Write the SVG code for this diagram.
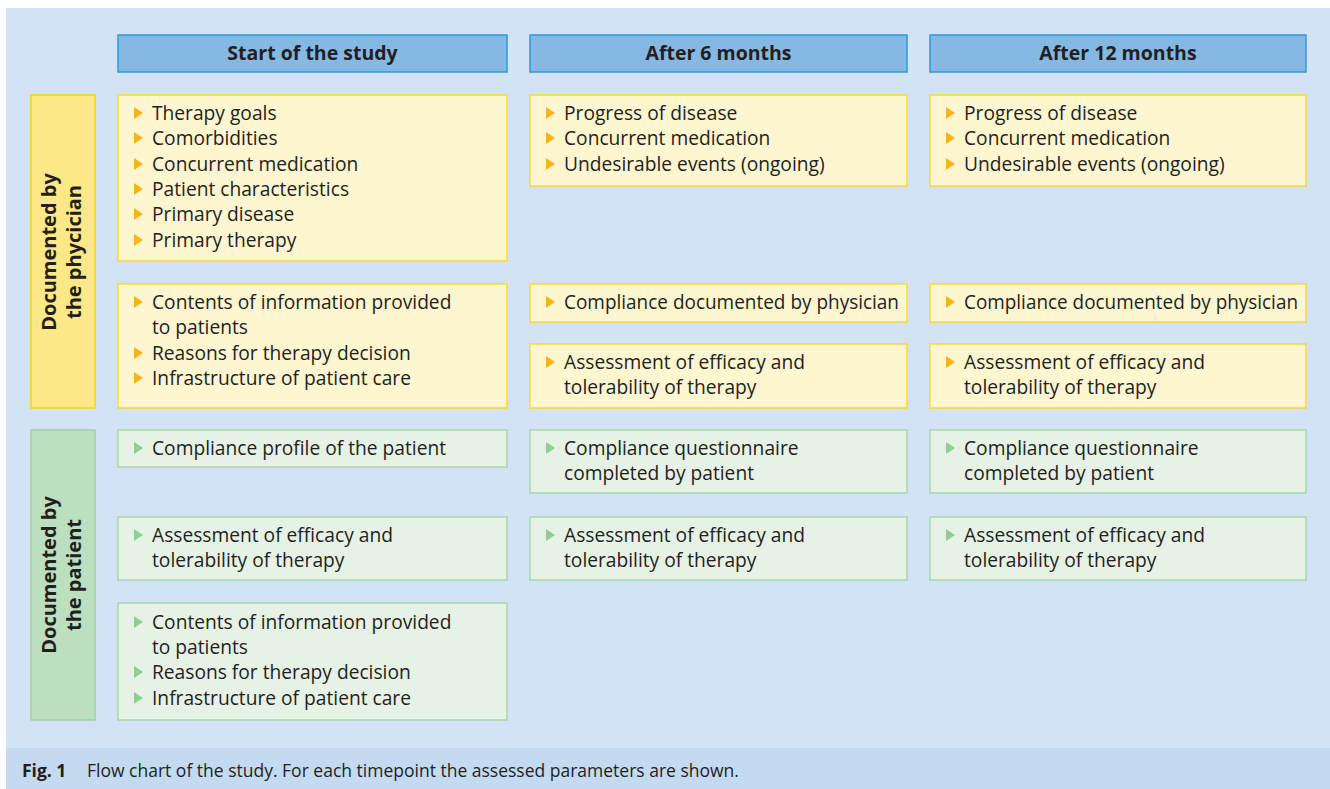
<svg xmlns="http://www.w3.org/2000/svg" width="1330" height="789" viewBox="0 0 1330 789">
<style>
.t{font-family:"Open Sans","DejaVu Sans",sans-serif;font-size:19.2px;fill:#231f20}
.h{font-family:"Open Sans","DejaVu Sans",sans-serif;font-size:19.5px;font-weight:bold;fill:#231f20;text-anchor:middle}
.hd{fill:#85b8e3;stroke:#2e9ad8;stroke-width:1.5}
.y{fill:#fef6d0;stroke:#f8da36;stroke-width:1.5}
.g{fill:#e6f2e5;stroke:#a6d8a9;stroke-width:1.5}
.ys{fill:#fde887;stroke:#f6d11f;stroke-width:1.5}
.gs{fill:#bbdfbf;stroke:#9ed3a3;stroke-width:1.5}
.ot{fill:#f9b21b}
.gt{fill:#8ecf93}
.c{font-family:"Open Sans","DejaVu Sans",sans-serif;font-size:17.5px;fill:#231f20}
</style>
<defs>
<path id="oy" d="M0,-6 L9,0 L0,6 Z" class="ot"/>
<path id="og" d="M0,-6 L9,0 L0,6 Z" class="gt"/>
</defs>
<rect x="0" y="0" width="1330" height="789" fill="#ffffff"/>
<rect x="6" y="8" width="1324" height="740" fill="#d3e3f5"/>
<rect x="6" y="748" width="1324" height="41" fill="#c4daf1"/>
<text class="c" x="22" y="777"><tspan font-weight="bold">Fig. 1</tspan><tspan x="87">Flow chart of the study. For each timepoint the assessed parameters are shown.</tspan></text>

<g id="hdr1"><rect class="hd" x="118" y="35" width="389" height="37"/><text class="h" x="312.5" y="60">Start of the study</text></g>
<g id="hdr2"><rect class="hd" x="530" y="35" width="377" height="37"/><text class="h" x="718.5" y="60">After 6 months</text></g>
<g id="hdr3"><rect class="hd" x="930" y="35" width="376" height="37"/><text class="h" x="1118" y="60">After 12 months</text></g>

<g id="side-physician"><rect class="ys" x="31" y="95" width="64" height="313"/>
<text class="h" style="font-size:20px" transform="translate(56,252) rotate(-90)">Documented by</text>
<text class="h" style="font-size:20px" transform="translate(81,252) rotate(-90)">the phycician</text></g>
<g id="side-patient"><rect class="gs" x="31" y="430" width="64" height="290"/>
<text class="h" style="font-size:20px" transform="translate(56,575) rotate(-90)">Documented by</text>
<text class="h" style="font-size:20px" transform="translate(81,575) rotate(-90)">the patient</text></g>

<g id="p1a"><rect class="y" x="118" y="95" width="389" height="166"/>
<use href="#oy" x="134" y="113"/><use href="#oy" x="134" y="138"/><use href="#oy" x="134" y="164"/><use href="#oy" x="134" y="189"/><use href="#oy" x="134" y="214"/><use href="#oy" x="134" y="240"/>
<text class="t" x="152" y="120">Therapy goals</text>
<text class="t" x="152" y="145">Comorbidities</text>
<text class="t" x="152" y="171">Concurrent medication</text>
<text class="t" x="152" y="196">Patient characteristics</text>
<text class="t" x="152" y="221">Primary disease</text>
<text class="t" x="152" y="247">Primary therapy</text></g>

<g id="p1b"><rect class="y" x="118" y="284" width="389" height="124"/>
<use href="#oy" x="134" y="302"/><use href="#oy" x="134" y="353"/><use href="#oy" x="134" y="378"/>
<text class="t" x="152" y="309">Contents of information provided</text>
<text class="t" x="152" y="334">to patients</text>
<text class="t" x="152" y="360">Reasons for therapy decision</text>
<text class="t" x="152" y="385">Infrastructure of patient care</text></g>

<g id="p2a"><rect class="y" x="530" y="95" width="377" height="91"/>
<use href="#oy" x="546" y="113"/><use href="#oy" x="546" y="138"/><use href="#oy" x="546" y="164"/>
<text class="t" x="564" y="120">Progress of disease</text>
<text class="t" x="564" y="145">Concurrent medication</text>
<text class="t" x="564" y="171">Undesirable events (ongoing)</text></g>
<g id="p2b"><rect class="y" x="530" y="284" width="377" height="38"/>
<use href="#oy" x="546" y="302"/>
<text class="t" x="564" y="309" textLength="335" lengthAdjust="spacingAndGlyphs">Compliance documented by physician</text></g>
<g id="p2c"><rect class="y" x="530" y="344" width="377" height="64"/>
<use href="#oy" x="546" y="362"/>
<text class="t" x="564" y="369">Assessment of efficacy and</text>
<text class="t" x="564" y="394">tolerability of therapy</text></g>

<g id="p3a"><rect class="y" x="930" y="95" width="376" height="91"/>
<use href="#oy" x="946" y="113"/><use href="#oy" x="946" y="138"/><use href="#oy" x="946" y="164"/>
<text class="t" x="964" y="120">Progress of disease</text>
<text class="t" x="964" y="145">Concurrent medication</text>
<text class="t" x="964" y="171">Undesirable events (ongoing)</text></g>
<g id="p3b"><rect class="y" x="930" y="284" width="376" height="38"/>
<use href="#oy" x="946" y="302"/>
<text class="t" x="964" y="309" textLength="334" lengthAdjust="spacingAndGlyphs">Compliance documented by physician</text></g>
<g id="p3c"><rect class="y" x="930" y="344" width="376" height="64"/>
<use href="#oy" x="946" y="362"/>
<text class="t" x="964" y="369">Assessment of efficacy and</text>
<text class="t" x="964" y="394">tolerability of therapy</text></g>

<g id="q1a"><rect class="g" x="118" y="430" width="389" height="37"/>
<use href="#og" x="134" y="448"/>
<text class="t" x="152" y="455">Compliance profile of the patient</text></g>
<g id="q1b"><rect class="g" x="118" y="517" width="389" height="63"/>
<use href="#og" x="134" y="535"/>
<text class="t" x="152" y="542">Assessment of efficacy and</text>
<text class="t" x="152" y="567">tolerability of therapy</text></g>
<g id="q1c"><rect class="g" x="118" y="603" width="389" height="117"/>
<use href="#og" x="134" y="622"/><use href="#og" x="134" y="672"/><use href="#og" x="134" y="698"/>
<text class="t" x="152" y="629">Contents of information provided</text>
<text class="t" x="152" y="654">to patients</text>
<text class="t" x="152" y="679">Reasons for therapy decision</text>
<text class="t" x="152" y="705">Infrastructure of patient care</text></g>

<g id="q2a"><rect class="g" x="530" y="430" width="377" height="63"/>
<use href="#og" x="546" y="448"/>
<text class="t" x="564" y="455">Compliance questionnaire</text>
<text class="t" x="564" y="480">completed by patient</text></g>
<g id="q2b"><rect class="g" x="530" y="517" width="377" height="63"/>
<use href="#og" x="546" y="535"/>
<text class="t" x="564" y="542">Assessment of efficacy and</text>
<text class="t" x="564" y="567">tolerability of therapy</text></g>

<g id="q3a"><rect class="g" x="930" y="430" width="376" height="63"/>
<use href="#og" x="946" y="448"/>
<text class="t" x="964" y="455">Compliance questionnaire</text>
<text class="t" x="964" y="480">completed by patient</text></g>
<g id="q3b"><rect class="g" x="930" y="517" width="376" height="63"/>
<use href="#og" x="946" y="535"/>
<text class="t" x="964" y="542">Assessment of efficacy and</text>
<text class="t" x="964" y="567">tolerability of therapy</text></g>

<g id="connectors"></g>
</svg>
